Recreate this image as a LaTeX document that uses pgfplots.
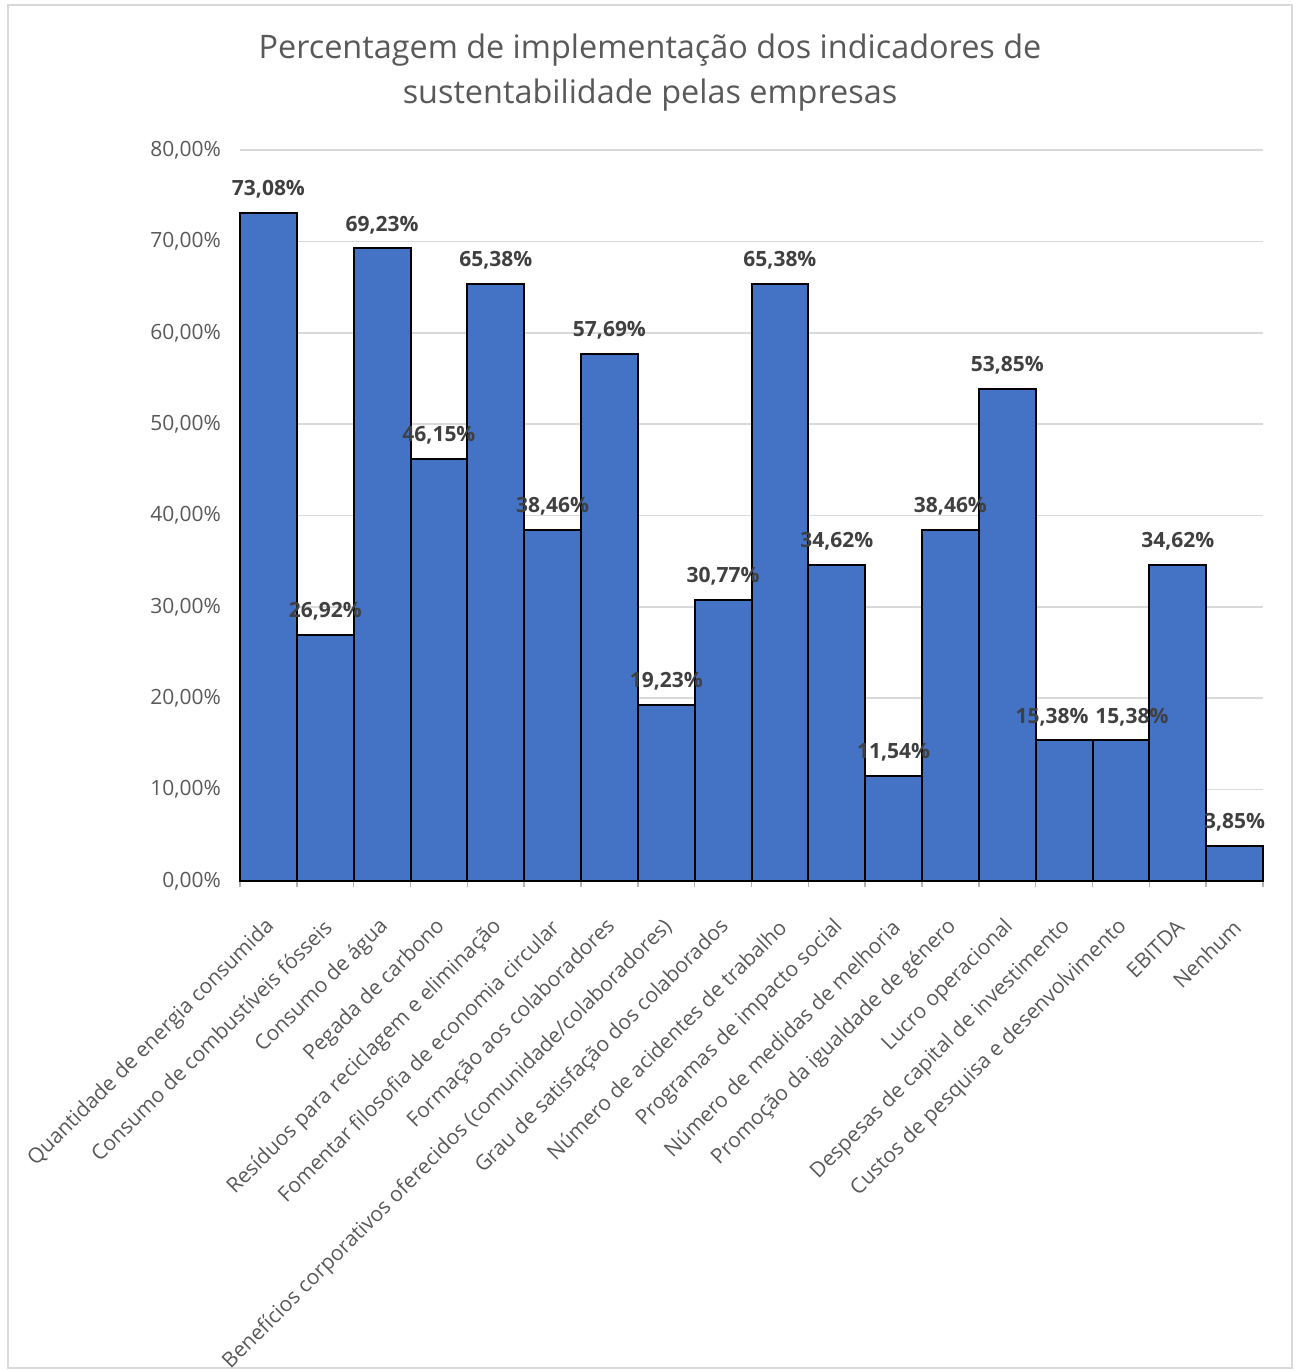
\documentclass[border=0pt]{standalone}
\usepackage{pgfplots}
\pgfplotsset{compat=1.18}
\usepackage{fontspec}
\setmainfont{Open Sans}
\definecolor{barblue}{HTML}{4472C4}
\definecolor{txtgrey}{HTML}{595959}
\definecolor{lblgrey}{HTML}{404040}
\definecolor{gridgrey}{HTML}{D9D9D9}
\begin{document}
\begin{tikzpicture}
\path[use as bounding box] (0,0) rectangle (649.5pt,685.5pt);
\draw[gridgrey, line width=1pt] (4pt,1.5pt) rectangle (646pt,683pt);
\node[txtgrey, font=\fontsize{16.2}{19}\selectfont] at (325pt,660.5pt) {Percentagem de implementação dos indicadores de};
\node[txtgrey, font=\fontsize{16.2}{19}\selectfont] at (325pt,638pt) {sustentabilidade pelas empresas};
\begin{axis}[
  at={(120pt,245pt)}, anchor=south west,
  scale only axis, width=511.5pt, height=365.5pt,
  xmin=-0.5, xmax=17.5, ymin=0, ymax=80,
  ytick={0,10,...,80},
  /pgf/number format/assume math mode=true,
  yticklabel={\pgfmathprintnumber[fixed,fixed zerofill,precision=2,use comma]{\tick}\%},
  yticklabel style={font=\fontsize{10.5}{12}\selectfont, text=txtgrey, xshift=-6pt},
  ymajorgrids, grid style={gridgrey, line width=0.8pt},
  major tick length=0pt,
  minor xtick={-0.5,0.5,...,17.5},
  minor tick length=3pt, tick align=outside,
  minor tick style={draw=black!30, line width=0.8pt},
  axis x line*=bottom, axis y line*=left,
  y axis line style={draw=none},
  x axis line style={draw=black!30, line width=0.8pt, -},
  xtick={0,...,17},
  xticklabels={Quantidade de energia consumida, Consumo de combustíveis fósseis, Consumo de água, Pegada de carbono, Resíduos para reciclagem e eliminação, Fomentar filosofia de economia circular, Formação aos colaboradores, Benefícios corporativos oferecidos (comunidade/colaboradores), Grau de satisfação dos colaborados, Número de acidentes de trabalho, Programas de impacto social, Número de medidas de melhoria, Promoção da igualdade de género, Lucro operacional, Despesas de capital de investimento, Custos de pesquisa e desenvolvimento, EBITDA, Nenhum},
  xticklabel style={font=\fontsize{10.5}{12}\selectfont, text=txtgrey, rotate=45, anchor=east, inner sep=0pt, xshift=-14pt, yshift=-16pt},
  clip=false,
]
\addplot[ybar, bar width=1, fill=barblue, draw=black, line width=1pt,
  nodes near coords={\pgfmathprintnumber[fixed,fixed zerofill,precision=2,use comma]{\pgfplotspointmeta}\%},
  every node near coord/.append style={font=\bfseries\fontsize{10.5}{12}\selectfont, text=lblgrey, yshift=3.5pt},
  coordinate style/.condition={x==14}{xshift=-6pt},
  coordinate style/.condition={x==15}{xshift=5.5pt}]
coordinates {(0,73.08) (1,26.92) (2,69.23) (3,46.15) (4,65.38) (5,38.46) (6,57.69) (7,19.23) (8,30.77) (9,65.38) (10,34.62) (11,11.54) (12,38.46) (13,53.85) (14,15.38) (15,15.38) (16,34.62) (17,3.85)};
\end{axis}
\end{tikzpicture}
\end{document}
